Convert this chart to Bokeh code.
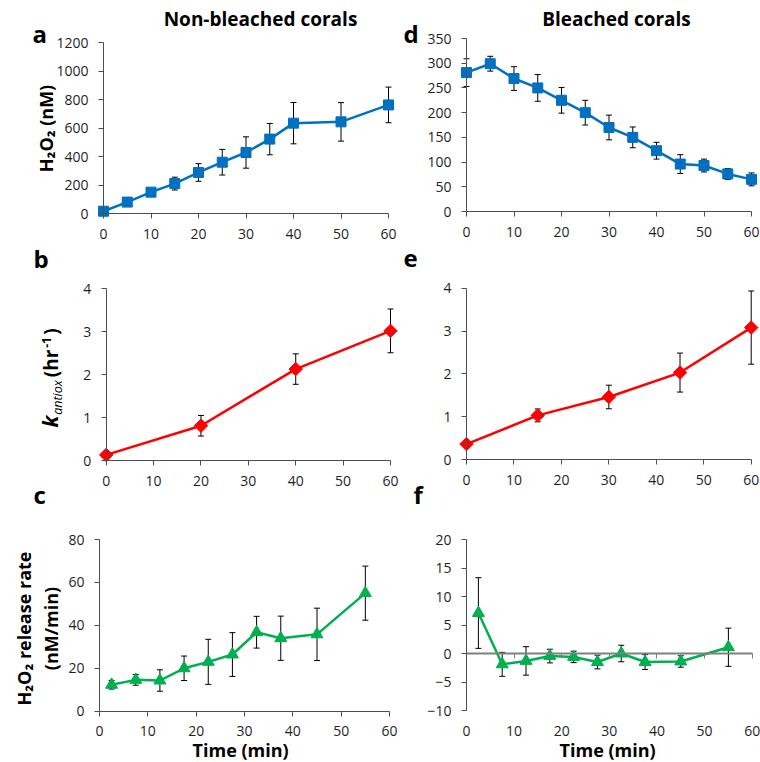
import numpy as np
from bokeh.plotting import figure
from bokeh.models import ColumnDataSource, Whisker, TeeHead, Range1d, FixedTicker, Label, LinearAxis
from bokeh.layouts import column, row
from bokeh.embed import file_html
from bokeh.resources import INLINE

FONT = "Open Sans"
time_ticks = [0, 10, 20, 30, 40, 50, 60]

# Panel a: non-bleached, H2O2 (nM)
a_time = [0, 5, 10, 15, 20, 25, 30, 35, 40, 50, 60]
a_h2o2 = [16, 80, 150, 210, 288, 360, 428, 522, 634, 643, 762]
a_err = [10, 15, 20, 45, 62, 90, 110, 110, 145, 135, 125]
a_yticks = [0, 200, 400, 600, 800, 1000, 1200]

# Panel d: bleached, H2O2 (nM)
d_time = [0, 5, 10, 15, 20, 25, 30, 35, 40, 45, 50, 55, 60]
d_h2o2 = [281, 299, 269, 250, 225, 200, 170, 150, 123, 96, 93, 76, 65]
d_err = [28, 15, 24, 27, 26, 25, 25, 21, 17, 19, 13, 11, 13]
d_yticks = [0, 50, 100, 150, 200, 250, 300, 350]

# Panel b: non-bleached, k_antiox (hr-1)
b_time = [0, 20, 40, 60]
b_k = [0.13, 0.81, 2.13, 3.02]
b_err = [0.0, 0.24, 0.355, 0.51]

# Panel e: bleached, k_antiox (hr-1)
e_time = [0, 15, 30, 45, 60]
e_k = [0.36, 1.03, 1.46, 2.03, 3.08]
e_err = [0.0, 0.15, 0.275, 0.455, 0.855]
k_yticks = [0, 1, 2, 3, 4]

# Panel c: non-bleached, H2O2 release rate (nM/min)
c_time = [2.5, 7.5, 12.5, 17.5, 22.5, 27.5, 32.5, 37.5, 45, 55]
c_rate = [12.3, 14.6, 14.3, 20.0, 23.0, 26.4, 36.8, 34.0, 35.8, 55.0]
c_err = [2.0, 2.5, 5.0, 5.7, 10.5, 10.2, 7.4, 10.3, 12.2, 12.6]
c_yticks = [0, 20, 40, 60, 80]

# Panel f: bleached, H2O2 release rate (nM/min)
f_time = [2.5, 7.5, 12.5, 17.5, 22.5, 27.5, 32.5, 37.5, 45, 55]
f_rate = [7.1, -1.9, -1.3, -0.45, -0.6, -1.5, 0.0, -1.5, -1.4, 1.1]
f_err = [6.2, 2.1, 2.5, 1.2, 1.0, 1.2, 1.45, 1.3, 1.0, 3.35]
f_yticks = [-10, -5, 0, 5, 10, 15, 20]

BLUE = "#0070C0"
RED = "#FF0000"
GREEN = "#00B050"
AXIS = "#4d4d4d"
TICKTXT = "#1f1f1f"
MID = 0.388  # distance (in em) from the text-box middle to the alphabetic baseline


def style_axis(ax, standoff):
    ax.axis_line_color = AXIS
    ax.axis_line_width = 1
    ax.major_tick_line_color = AXIS
    ax.major_tick_in = 0
    ax.major_tick_out = 5
    ax.minor_tick_line_color = None
    ax.major_label_text_font = FONT
    ax.major_label_text_font_size = "14px"
    ax.major_label_text_color = TICKTXT
    ax.major_label_standoff = standoff


class Panel:
    """A figure whose frame covers the whole canvas; axes sit at fixed data positions."""

    def __init__(self, box, xpx, ypx, yr, yticks):
        cx, cy, w, h = box
        self.cx, self.cy, self.w, self.h = cx, cy, w, h
        x0px, x60px = xpx
        ylo, yhi = yr
        pylo, pyhi = ypx
        sx = 60.0 / (x60px - x0px)
        sy = (yhi - ylo) / (pylo - pyhi)
        xr = Range1d(0 - (x0px - cx) * sx, 60 + (cx + w - x60px) * sx)
        yrng = Range1d(ylo - (cy + h - pylo) * sy, yhi + (pyhi - cy) * sy)
        p = figure(width=w, height=h, output_backend="svg", toolbar_location=None,
                   x_range=xr, y_range=yrng, title=None,
                   x_axis_location=None, y_axis_location=None,
                   min_border=0, min_border_left=0, min_border_right=0,
                   min_border_top=0, min_border_bottom=0)
        p.outline_line_color = None
        p.grid.visible = False
        yax = LinearAxis(fixed_location=0, bounds=(ylo, yhi), ticker=FixedTicker(ticks=yticks))
        style_axis(yax, 10)
        p.add_layout(yax, "left")
        xax = LinearAxis(fixed_location=ylo, bounds=(0, 60), ticker=FixedTicker(ticks=time_ticks))
        style_axis(xax, 10)
        p.add_layout(xax, "below")
        self.p = p
        self.xax = xax
        self.yax = yax

    def series(self, x, y, err, color, marker, size, angle=0.0, lw=2.5):
        upper = [v + e for v, e in zip(y, err)]
        lower = [v - e for v, e in zip(y, err)]
        src = ColumnDataSource(dict(x=x, y=y, upper=upper, lower=lower))
        w = Whisker(source=src, base="x", upper="upper", lower="lower",
                    line_color="black", line_width=1,
                    upper_head=TeeHead(size=6, line_color="black", line_width=1),
                    lower_head=TeeHead(size=6, line_color="black", line_width=1))
        self.p.add_layout(w)
        self.p.line("x", "y", source=src, line_color=color, line_width=lw)
        self.p.scatter("x", "y", source=src, marker=marker, size=size, angle=angle,
                       fill_color=color, line_color=color)

    def text(self, text, ax, ay, size, style="bold", align="left", color="black"):
        # horizontal text; (ax, ay) = absolute page position of the alphabetic baseline
        my = ay - MID * size
        self.p.add_layout(Label(x=ax - self.cx, y=(self.cy + self.h) - my,
                                x_units="screen", y_units="screen", text=text,
                                text_font=FONT, text_font_size=f"{size}px",
                                text_font_style=style, text_align=align,
                                text_baseline="middle", text_color=color))

    def vtext(self, text, bx, ay, size, style="bold", align="center", color="black"):
        # text rotated 90 deg; bx = absolute x of the baseline, ay = absolute y of its centre
        mx = bx - MID * size
        self.p.add_layout(Label(x=mx - self.cx, y=(self.cy + self.h) - ay,
                                x_units="screen", y_units="screen", text=text,
                                text_font=FONT, text_font_size=f"{size}px",
                                text_font_style=style, angle=np.pi / 2, text_align=align,
                                text_baseline="middle", text_color=color))


LW = 400          # left column width
RW = 760 - LW     # right column width
R1 = 275          # row boundaries
R2 = 512

# Row 1
A = Panel((0, 0, LW, R1), (103, 388), (213, 42), (0, 1200), a_yticks)
A.series(a_time, a_h2o2, a_err, BLUE, "square", 10)
A.text("a", 32, 42, 24)
A.text("b", 33, 267, 24)
A.text("Non-bleached corals", 260, 26, 19, align="center")
A.vtext("H\u2082O\u2082 (nM)", 52, 128, 18)

D = Panel((LW, 0, RW, R1), (466, 751), (211, 38), (0, 350), d_yticks)
D.series(d_time, d_h2o2, d_err, BLUE, "square", 10)
D.text("d", 403, 42, 24)
D.text("e", 403, 267, 24)
D.text("Bleached corals", 616, 26, 19, align="center")

# Row 2
B = Panel((0, R1, LW, R2 - R1), (105.7, 390), (460, 288.3), (0, 4), k_yticks)
B.series(b_time, b_k, b_err, RED, "square", 9.5, angle=np.pi / 4)
B.text("c", 33, 503, 24)
# k_antiox (hr^-1), built from pieces (each centred on its place in the label)
B.vtext("k", 57.5, 421, 21, style="bold italic")
B.vtext("antiox", 61.5, 397, 12.5, style="italic")
B.vtext("(hr", 57.5, 363, 19, style="bold")
B.vtext("-1", 50.5, 342, 12, style="bold")
B.vtext(")", 57.5, 331, 19, style="bold")

E = Panel((LW, R1, RW, R2 - R1), (466, 750.7), (459, 287.7), (0, 4), k_yticks)
E.series(e_time, e_k, e_err, RED, "square", 9.5, angle=np.pi / 4)
E.text("f", 413, 503, 24)

# Row 3
C = Panel((0, R2, LW, 762 - R2), (99, 389), (710.7, 539), (0, 80), c_yticks)
C.series(c_time, c_rate, c_err, GREEN, "triangle", 12)
C.vtext("H\u2082O\u2082 release rate", 30, 628, 18)
C.vtext("(nM/min)", 57, 628, 18)
C.text("Time  (min)", 242.5, 756, 18, align="center")

F = Panel((LW, R2, RW, 762 - R2), (466, 751.7), (710, 539), (-10, 20), f_yticks)
# bottom axis at -10: labels only
F.xax.axis_line_color = None
F.xax.major_tick_line_color = None
# zero axis: line and ticks only
zero_axis = LinearAxis(fixed_location=0, bounds=(0, 60), ticker=FixedTicker(ticks=time_ticks),
                       axis_line_color="#808080", axis_line_width=2,
                       major_tick_line_color="#808080", major_tick_line_width=1,
                       major_tick_in=0, major_tick_out=5,
                       minor_tick_line_color=None,
                       major_label_text_font_size="0px", major_label_text_alpha=0)
F.p.add_layout(zero_axis, "below")
F.series(f_time, f_rate, f_err, GREEN, "triangle", 12)
F.text("Time  (min)", 609.5, 756, 18, align="center")

layout = column(row(A.p, D.p), row(B.p, E.p), row(C.p, F.p))

with open("out.html", "w") as fh:
    fh.write(file_html(layout, INLINE))
